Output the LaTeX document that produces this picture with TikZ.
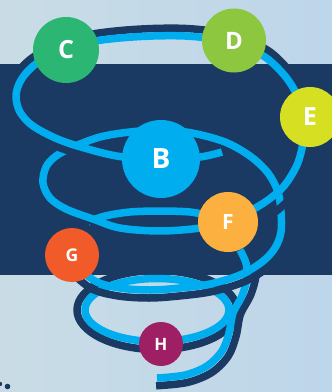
\documentclass[tikz,border=0pt]{standalone}
\usepackage{fontspec}
\setmainfont{Open Sans}
\definecolor{bandblue}{HTML}{1B3A63}
\definecolor{ribbonblue}{HTML}{00AEEF}
\definecolor{skyleft}{HTML}{C9DCE6}
\definecolor{skyright}{HTML}{BED6EA}
\definecolor{ballB}{HTML}{00AEEF}
\definecolor{ballC}{HTML}{2BB673}
\definecolor{ballD}{HTML}{8DC63F}
\definecolor{ballE}{HTML}{D7DF23}
\definecolor{ballF}{HTML}{FBB040}
\definecolor{ballG}{HTML}{F15A29}
\definecolor{ballH}{HTML}{9E1F63}
% one piece of the spiral: dark outer edge (scaled about a centre), light inner edge
\newcommand\spiralpart[5]{%
  \begin{scope}[shift={(#1,#2)},xscale=#3,yscale=#4,shift={(-#1,-#2)}]
    \draw[rim] plot[smooth,tension=.55] coordinates {#5};
  \end{scope}
  \draw[tube] plot[smooth,tension=.55] coordinates {#5};}
\begin{document}
\begin{tikzpicture}[x=1pt, y=-1pt, line join=round,
  tube/.style={ribbonblue, line width=7.5pt},
  rim/.style={bandblue, line width=7.5pt},
  ball/.style={circle, fill=#1, text=white, inner sep=0pt}]
\useasboundingbox (0,0) rectangle (332,392);
\clip (0,0) rectangle (332,392);
\shade[left color=skyleft, right color=skyright] (0,0) rectangle (332,392);
\fill[bandblue] (0,63.5) rectangle (332,275);
\fill[bandblue] (7.5,386.5) circle (2.8) (0,384) circle (2.2);
% spiral, back to front
\draw[tube] plot[smooth,tension=.55] coordinates {(88,222) (105,216) (130,212) (160,211) (190,212) (210,216) (228,221)};
\draw[rim] (157,310) ellipse (80 and 39.5);
\draw[tube] (157,310) ellipse (72 and 31.5);
\spiralpart{165}{300}{1.11}{1.1}{(240,250) (246,263) (247,278) (242,296) (233,313) (229,333) (222,351) (207,366) (185,375) (157,378)}
\spiralpart{165}{210}{1.065}{1.1}{(228,221) (200,228) (160,231) (120,228) (93,219) (66,209) (50,198) (43,183) (46,167) (56,156) (73,147) (100,137) (130,132) (161,130) (192,133) (225,142) (250,156) (268,173) (278,192) (281,212) (281,232) (275,248) (262,262) (240,275) (210,284) (180,288) (150,290) (120,288) (95,281) (72,262)}
\spiralpart{160}{95}{1.052}{1.127}{(222,152) (200,157) (160,160) (123,157) (95,151) (60,140) (33,126) (20,112) (16,97) (19,84) (27,72) (40,61) (60,51) (90,42) (120,38) (153,36) (185,36) (215,39) (240,45) (265,57) (285,76) (298,97) (305,120) (303,143) (297,165) (284,186) (268,200) (250,211) (228,221)}
% the balls
\node[ball=ballC, minimum size=66pt, font=\bfseries\fontsize{25}{25}\selectfont] (C) at (66,50) {C};
\node[ball=ballD, minimum size=64pt, font=\bfseries\fontsize{24}{24}\selectfont] (D) at (234,40.5) {D};
\node[ball=ballE, minimum size=60pt, font=\bfseries\fontsize{25}{25}\selectfont] (E) at (310,117) {E};
\node[ball=ballB, minimum size=78pt, font=\bfseries\fontsize{28}{28}\selectfont] (B) at (161,159) {B};
\node[ball=ballF, minimum size=60pt, font=\bfseries\fontsize{21}{21}\selectfont] (F) at (228,222) {F};
\node[ball=ballG, minimum size=54pt, font=\bfseries\fontsize{17.5}{17.5}\selectfont] (G) at (72,255) {G};
\node[ball=ballH, minimum size=44pt, font=\bfseries\fontsize{17}{17}\selectfont] (H) at (161,344) {H};
\end{tikzpicture}
\end{document}
